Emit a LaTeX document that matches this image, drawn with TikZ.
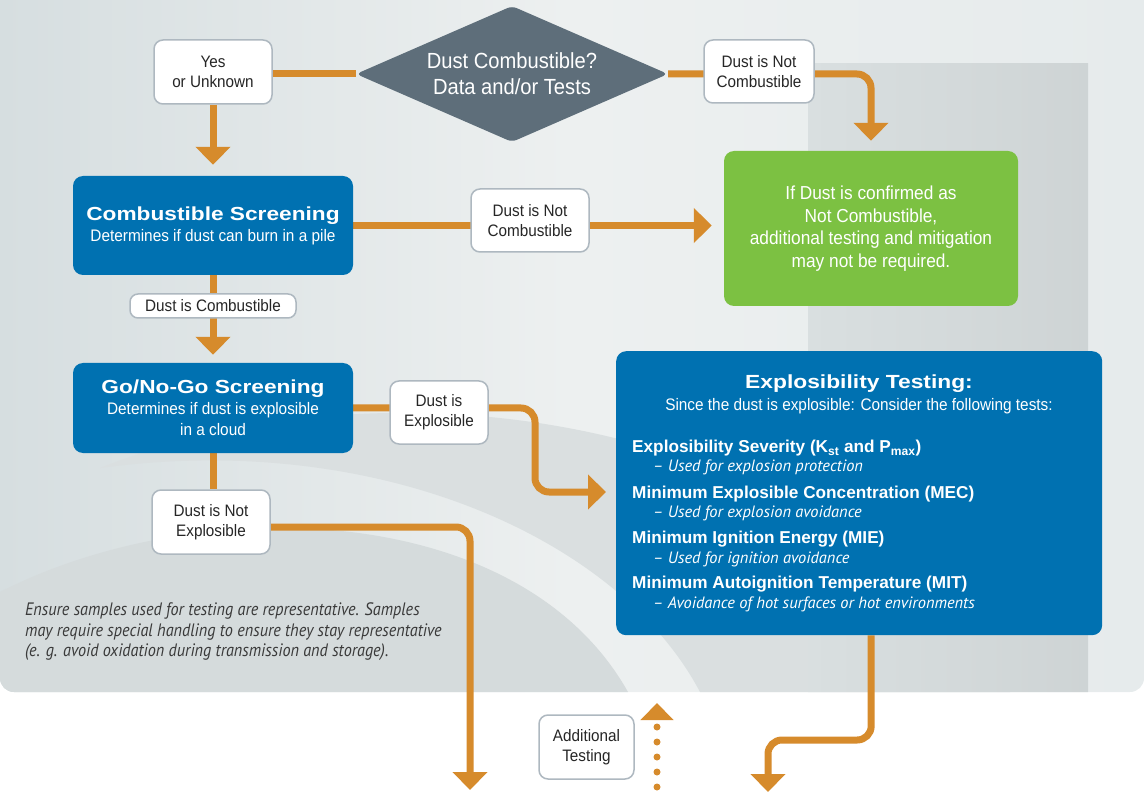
\documentclass[tikz,border=0pt]{standalone}
\usepackage{fontspec}
\setmainfont{Liberation Sans}
\newfontfamily\cnd[FakeStretch=0.92]{Liberation Sans}
\newfontfamily\wide[FakeStretch=1.2]{Liberation Sans}
\newfontfamily\myit{PT Sans}
\newfontfamily\noteit[FakeStretch=0.9]{PT Sans}
\usetikzlibrary{arrows.meta,shapes.geometric,calc}
\definecolor{orng}{HTML}{D68B2C}
\definecolor{fmblue}{HTML}{0071B1}
\definecolor{fmgreen}{HTML}{7CC142}
\definecolor{slate}{HTML}{5E6E7A}
\definecolor{lblgray}{HTML}{AEB8C0}
\definecolor{bgL}{HTML}{D6DEE0}
\definecolor{bgM}{HTML}{EDF0F0}
\definecolor{bgR}{HTML}{E6EBEC}
\definecolor{bgD}{HTML}{D9DFE0}
\definecolor{swA}{HTML}{DADFE0}
\definecolor{swB}{HTML}{D5DBDC}
\definecolor{notegray}{HTML}{3A3A3A}
\pgfdeclarelayer{back}
\pgfsetlayers{back,main}
\newcommand\lblfont{\cnd\fontsize{16.6}{20}\selectfont}
\newcommand\ttlfont{\wide\bfseries\fontsize{18.9}{21}\selectfont}
\tikzset{
  conn/.style={draw=orng, line width=7pt},
  arr/.style={conn, -{Triangle[width=34pt,length=18pt]}},
  rbend/.style={rounded corners=14pt},
  lbl/.style={draw=lblgray, line width=1.5pt, fill=white, rounded corners=9pt,
    align=center, font=\lblfont, inner sep=0pt, text=black!85},
  bluebox/.style={fill=fmblue, rounded corners=10pt, inner sep=0pt, align=center,
    text=white, font=\cnd\fontsize{16.7}{21}\selectfont},
  greenbox/.style={fill=fmgreen, rounded corners=10pt, inner sep=0pt, align=center,
    text=white, font=\cnd\fontsize{18.8}{22.5}\selectfont},
  decision/.style={diamond, fill=slate, inner sep=0pt, rounded corners=5pt},
  wtxt/.style={text=white, inner sep=0pt},
  itemb/.style={wtxt, anchor=west, font=\bfseries\fontsize{17.2}{18}\selectfont},
  itemi/.style={wtxt, anchor=west, font=\myit\itshape\fontsize{16.4}{18}\selectfont},
}
\begin{document}
\begin{tikzpicture}[x=1pt,y=-1pt]
\useasboundingbox (0,0) rectangle (1144,794);
\clip (0,0) rectangle (1144,794);
% background
\begin{pgfonlayer}{back}
\shade[left color=bgL, right color=bgR, middle color=bgM, rounded corners=14pt] (0,-30) rectangle (1144,692);
\begin{scope}
\clip[rounded corners=14pt] (0,-30) rectangle (1144,692);
\fill[swA] (100,468) .. controls (400,350) and (820,420) .. (1010,692) -- (700,692)
   .. controls (620,540) and (380,430) .. (100,468) -- cycle;
\fill[swB] (0,692) -- (0,592) .. controls (200,490) and (520,500) .. (628,692) -- cycle;
\shade[left color=bgD, right color=bgD!95!black] (808,64) rectangle (1088,692);
\end{scope}
\end{pgfonlayer}

% nodes
\node[decision, minimum width=312pt, minimum height=136pt] (diam) at (512,74) {};
\node[wtxt, align=center, font=\cnd\fontsize{21.9}{26}\selectfont] (diamT) at (diam.center) {Dust Combustible?\\Data and/or Tests};
\node[lbl, minimum width=118pt, minimum height=64pt] (yes) at (213,72) {Yes\\or Unknown};
\node[lbl, minimum width=110pt, minimum height=63pt] (ncombA) at (759,71.5) {Dust is Not\\Combustible};
\node[bluebox, minimum width=280pt, minimum height=99pt] (combs) at (213,225.5)
  {{\ttlfont Combustible Screening}\\Determines if dust can burn in a pile};
\node[lbl, minimum width=118pt, minimum height=63pt] (ncombB) at (530,220.5) {Dust is Not\\Combustible};
\node[greenbox, minimum width=294pt, minimum height=155pt] (green) at (871,228.5)
  {If Dust is confirmed as\\Not Combustible,\\additional testing and mitigation\\may not be required.};
\node[lbl, minimum width=166pt, minimum height=24pt, rounded corners=8pt] (dcomb) at (213,306) {Dust is Combustible};
\node[bluebox, minimum width=280pt, minimum height=90pt] (gonogo) at (213,408)
  {{\ttlfont Go/No-Go Screening}\\Determines if dust is explosible\\in a cloud};
\node[lbl, minimum width=98pt, minimum height=63pt] (dexpl) at (439,412.5) {Dust is\\Explosible};
\node[lbl, minimum width=118pt, minimum height=64pt] (dnexpl) at (211,522) {Dust is Not\\Explosible};
\node[bluebox, minimum width=486pt, minimum height=284pt, anchor=north west] (expl) at (616,351) {};
\node[wtxt, font=\wide\bfseries\fontsize{19}{21}\selectfont] (explT) at (859,384) {Explosibility Testing:};
\node[wtxt, font=\cnd\fontsize{16.7}{20}\selectfont] (explS) at (859,406) {Since the dust is explosible: Consider the following tests:};
\node[itemb] (e1) at (632,448) {Explosibility Severity (K\textsubscript{st} and P\textsubscript{max})};
\node[itemi] (e1i) at (653,467) {– Used for explosion protection};
\node[itemb] (e2) at (632,494) {Minimum Explosible Concentration (MEC)};
\node[itemi] (e2i) at (653,513) {– Used for explosion avoidance};
\node[itemb] (e3) at (632,539) {Minimum Ignition Energy (MIE)};
\node[itemi] (e3i) at (653,559) {– Used for ignition avoidance};
\node[itemb] (e4) at (632,584) {Minimum Autoignition Temperature (MIT)};
\node[itemi] (e4i) at (653,604) {– Avoidance of hot surfaces or hot environments};
\node[lbl, minimum width=95pt, minimum height=64pt] (addt) at (586.5,747) {Additional\\Testing};
\node[anchor=west, align=left, inner sep=0pt, text=notegray, font=\noteit\itshape\fontsize{18}{20.5}\selectfont] (note) at (25,632)
  {Ensure samples used for testing are representative. Samples\\may require special handling to ensure they stay representative\\(e. g. avoid oxidation during transmission and storage).};

\coordinate (bendE) at (535,492);
\coordinate (endNE) at (470,790);
\coordinate (endX) at (768,792);
\coordinate (dotB) at (657,787);
\coordinate (dotT) at (657,703);

% connectors
\begin{pgfonlayer}{back}
\draw[conn] (yes.east |- diam.west) -- (diam.west);
\draw[arr, rbend] (diam.east) -| ($(green.north)+(0,-10)$);
\draw[arr] (yes.south) -- ($(combs.north)+(0,-11)$);
\draw[arr] (combs.east) -- ($(green.west |- combs.east)+(-12,0)$);
\draw[arr] (combs.south) -- ($(gonogo.north)+(0,-8)$);
\draw[arr, rbend] (gonogo.east) -| (bendE) -- ($(expl.west |- bendE)+(-10,0)$);
\draw[conn] (gonogo.south) -- (gonogo.south |- dnexpl.north);
\draw[arr, rbend] ($(dnexpl.east)+(0,5)$) -| (endNE);
\draw[arr, rbend] ($(expl.south)+(12,0)$) |- ($(endX)+(0,-52)$) -- (endX);
\draw[orng, line width=7pt, line cap=round, dash pattern=on 0pt off 15pt,
  -{Triangle[width=32pt,length=17pt]}] (dotB) -- (dotT);
\end{pgfonlayer}
\end{tikzpicture}
\end{document}
